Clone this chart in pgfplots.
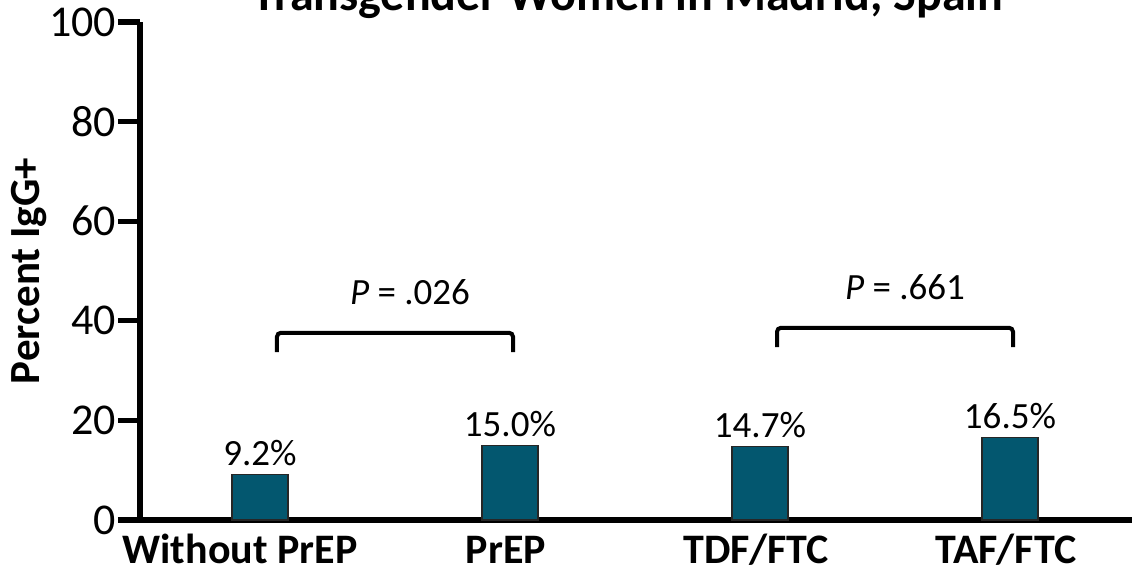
\documentclass[border=0pt]{standalone}
\usepackage{pgfplots}
\pgfplotsset{compat=1.18}
\usepackage{fontspec}
\setmainfont{Carlito}
\usetikzlibrary{calc}
\definecolor{barteal}{HTML}{03576F}

\begin{document}
\begin{tikzpicture}
\begin{axis}[
  scale only axis,
  width=496pt, height=249pt,
  xmin=-0.48, xmax=3.488,
  ymin=0, ymax=100,
  axis x line=bottom, axis y line=left,
  axis line style={line width=2.6pt, -},
  /pgf/number format/assume math mode=true,
  xtick={0,1,2,3},
  xticklabels={Without PrEP\rule{16pt}{0pt}, PrEP, TDF/FTC, TAF/FTC},
  xtick style={draw=none},
  xticklabel style={font=\bfseries\fontsize{21}{25}\selectfont, anchor=base, yshift=-16pt, xshift=-2pt},
  ytick={0,20,...,100},
  ytick align=outside,
  major tick length=11pt,
  ytick style={line width=2.6pt, black},
  yticklabel style={font=\fontsize{22}{26}\selectfont, xshift=2.5pt},
  ylabel={\bfseries Percent IgG+},
  ylabel style={font=\fontsize{21.5}{25}\selectfont, at={(axis description cs:0,0.5)}, anchor=base, yshift=50pt},
  clip=false,
]
\addplot[ybar, bar width=28pt, fill=barteal, draw=black!85, line width=0.6pt,
  point meta=y,
  nodes near coords={\pgfmathprintnumber[fixed,fixed zerofill,precision=1]{\pgfplotspointmeta}\%},
  nodes near coords style={font=\fontsize{18.5}{22}\selectfont, anchor=base, inner sep=0pt, yshift=4.5pt},
] coordinates {(0,9.2) (1,15.0) (2,14.7) (3,16.5)};

% significance brackets
\draw[line width=2pt, rounded corners=2pt] (axis cs:0.068,33.7) -- (axis cs:0.068,37.6) -- (axis cs:1.012,37.6) -- (axis cs:1.012,33.7);
\draw[line width=2pt, rounded corners=2pt] (axis cs:2.068,34.7) -- (axis cs:2.068,38.6) -- (axis cs:3.012,38.6) -- (axis cs:3.012,34.7);
\node[anchor=base, font=\fontsize{18.5}{22}\selectfont] at (axis cs:0.6,43.2) {\textit{P} = .026};
\node[anchor=base, font=\fontsize{18.5}{22}\selectfont] at (axis cs:2.58,44.2) {\textit{P} = .661};
\end{axis}
\node[anchor=base, font=\bfseries\fontsize{24}{28}\selectfont] at ($(current axis.north)+(-4pt,6pt)$) {Transgender Women in Madrid, Spain};
\pgfresetboundingbox
\path[use as bounding box] ($(current axis.south west)+(-70pt,-24.5pt)$) rectangle ($(current axis.north east)+(0pt,11pt)$);
\end{tikzpicture}
\end{document}
